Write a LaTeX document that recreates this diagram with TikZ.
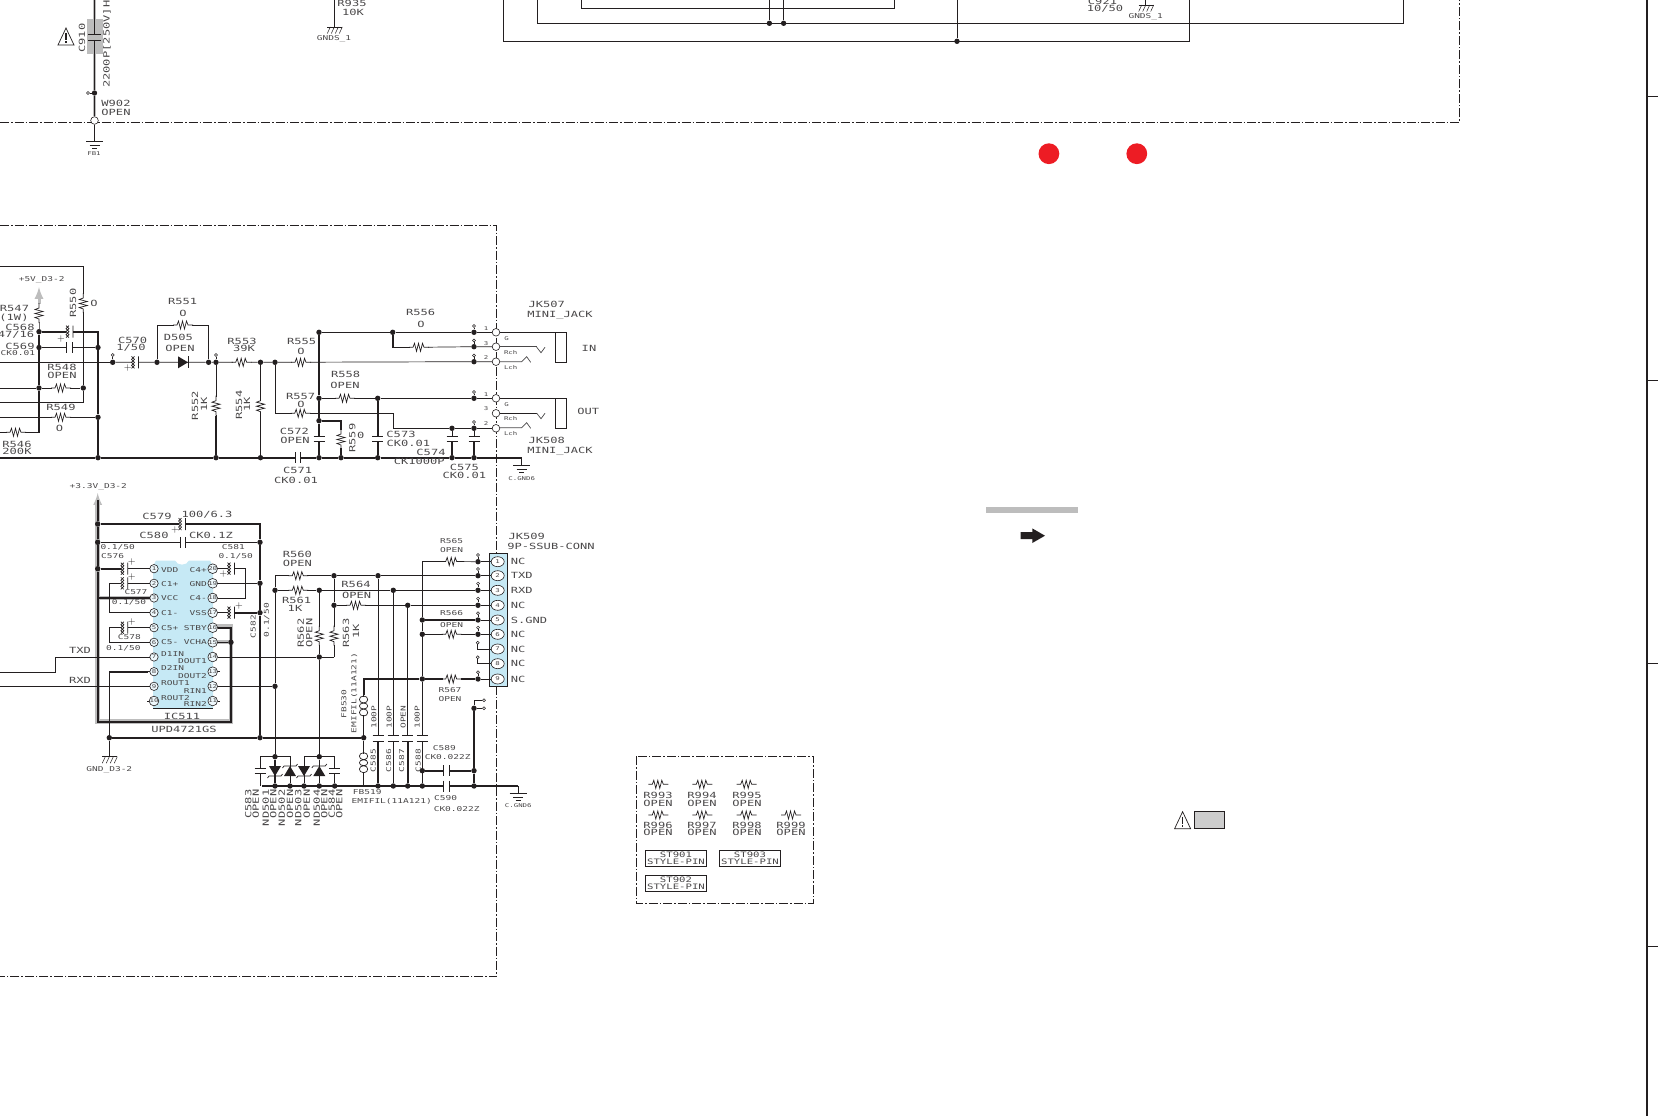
\documentclass[tikz,border=0pt]{standalone}
\usepackage{fontspec}
\newfontfamily\lblfont[FakeStretch=1.42]{DejaVu Sans Mono}
\usetikzlibrary{shapes.geometric}
\definecolor{ink}{HTML}{231F20}
\definecolor{txt}{HTML}{4A4849}
\definecolor{halogray}{HTML}{BDBDBD}
\definecolor{icblue}{HTML}{C6E9F5}
\definecolor{dotred}{HTML}{ED1C24}
\tikzset{
  wire/.style={line width=0.7pt,color=ink},
  bus/.style={line width=1.6pt,color=ink},
  halo/.style={line width=4.6pt,color=halogray},
  border/.style={line width=0.8pt,color=ink,dash pattern=on 9pt off 2pt on 1.5pt off 2pt},
  jdot/.style={circle,fill=ink,inner sep=0pt,minimum size=5.4pt},
  pinring/.style={circle,draw=ink,fill=white,line width=0.5pt,inner sep=0pt,minimum size=3pt},
  jackring/.style={circle,draw=ink,fill=white,line width=0.6pt,inner sep=0pt,minimum size=7.6pt},
  lbl/.style={font=\lblfont\fontsize{8.5}{8.5}\selectfont,text=txt,inner sep=0pt},
  lblm/.style={font=\lblfont\fontsize{7.5}{7.5}\selectfont,text=txt,inner sep=0pt},
  lbls/.style={font=\lblfont\fontsize{6.7}{6.7}\selectfont,text=txt,inner sep=0pt},
  lblt/.style={font=\lblfont\fontsize{5.2}{5.2}\selectfont,text=txt,inner sep=0pt},
  icpin/.style={circle,draw=ink,fill=white!70!icblue,line width=0.6pt,inner sep=0pt,minimum size=8.4pt,font=\lblfont\fontsize{5.2}{5.2}\selectfont,text=txt},
  conpin/.style={ellipse,draw=ink,fill=white,line width=0.6pt,inner sep=0pt,minimum width=13pt,minimum height=10pt,font=\lblfont\fontsize{5.2}{5.2}\selectfont,text=txt},
  pics/resist/.style={code={
    \fill[white] (-9,-1.5) rectangle (9,1.5);
    \draw[wire] (-10,0) -- (-6,0) -- (-4.5,-4) -- (-2.5,4) -- (-0.5,-4) -- (1.5,4) -- (3.5,-4) -- (5,0) -- (10,0);}},
  pics/plates/.style={code={
    \fill[white] (-2.7,-1.5) rectangle (2.7,1.5);
    \draw[wire] (-2.7,-5.5) -- (-2.7,5.5) (2.7,-5.5) -- (2.7,5.5);}},
  pics/pcap/.style={code={
    \fill[white] (-3.5,-1.5) rectangle (3.5,1.5);
    \draw[wire] (3.5,-6) -- (3.5,6) (-3.5,-6) -- (-0.5,-3) -- (-3.5,0) -- (-0.5,3) -- (-3.5,6)
      (-0.5,-6) -- (-3.5,-3) -- (-0.5,0) -- (-3.5,3) -- (-0.5,6);}},
  pics/zener/.style={code={
    \fill[ink] (-5,-6) -- (5,0) -- (-5,6) -- cycle;
    \draw[wire] (3,-7.5) -- (5,-6) -- (5,6) -- (7,7.5);}},
  pics/diode/.style={code={
    \fill[ink] (-5,-6) -- (5,0) -- (-5,6) -- cycle;
    \draw[wire] (5,-6) -- (5,6);}},
  pics/earth/.style={code={
    \draw[wire] (-8.5,0) -- (8.5,0) (-5,4) -- (5,4) (-2.5,7.5) -- (2.5,7.5);}},
  pics/hatch/.style={code={
    \draw[wire] (-7,0) -- (8,0);
    \foreach \h in {-4,0,4,8} \draw[wire,line width=0.5pt] (\h,0) -- (\h-3,6.5);}},
  pics/caution/.style={code={
    \draw[line width=0.7pt,color=ink] (0,0) -- (8,17) -- (-8,17) -- cycle;
    \draw[line width=1.1pt,color=ink] (0,5) -- (0,12) (0,13.5) -- (0,15.5);}},
}
\begin{document}
\begin{tikzpicture}[x=1pt,y=-1pt]
\useasboundingbox (0,0) rectangle (1658,1116);
% frames
\draw[border] (0,122.4) -- (1459.4,122.4) -- (1459.4,0);
\draw[border] (0,225.4) -- (496.8,225.4) -- (496.8,976.7) -- (0,976.7);
\draw[border] (636.7,756) rectangle (813.3,903.3);
\draw[line width=2pt,color=ink] (1647,0) -- (1647,1116);
\foreach \y in {96.8,380.8,663,946.6} \draw[line width=0.9pt,color=ink] (1647,\y) -- (1658,\y);

% top part
\fill[halogray] (87,19) rectangle (103,54);
\node[jdot] (w902) at (94.5,93) {};
\node[jackring] (fb1ring) at (94.5,120.5) {};
\node[pinring] (w902pin) at (88,93) {};
\coordinate (c910top) at (94.5,34);
\coordinate (c910bot) at (94.5,40);
\draw[halo,line width=2.4pt] (94.5,0) -- (c910top);
\draw[wire] (94.5,0) -- (c910top);
\draw[halo,line width=3pt] (c910bot) -- (w902) -- (fb1ring);
\draw[bus] (c910bot) -- (w902);
\draw[wire] (w902) -- (fb1ring);
\draw[wire] (w902pin) -- (w902);
\draw[wire] (88,34) -- (101,34) (88,40) -- (101,40);
\coordinate (fb1gnd) at (94.5,141);
\draw[wire] (fb1ring) -- (fb1gnd);
\pic at (fb1gnd) {earth};
\pic at (66,28) {caution};
\coordinate (gnds1a) at (334.3,27);
\draw[wire] (334.3,0) -- (gnds1a);
\pic at (gnds1a) {hatch};
\node[jdot] (t1) at (769.4,23.3) {};
\node[jdot] (t2) at (783.6,23.3) {};
\node[jdot] (t3) at (957,41.3) {};
\draw[line width=1pt,color=ink] (503.4,0) |- (1189.7,41.3) -- (1189.7,0);
\draw[line width=1pt,color=ink] (537,0) |- (1403.6,23.3) -- (1403.6,0);
\draw[line width=1pt,color=ink] (581.6,0) |- (894.6,8.3) -- (894.6,0);
\draw[wire] (769.4,0) -- (t1) (783.6,0) -- (t2) (957,0) -- (t3);
\coordinate (gnds1b) at (1145.7,5);
\draw[wire] (1145.7,0) -- (gnds1b);
\pic at (gnds1b) {hatch};
\foreach \x in {1048.9,1136.8} \fill[dotred] (\x,153.7) circle (10.4);
\fill[halogray] (986,507) rectangle (1078,513);
\fill[ink] (1020.7,532.2) -- (1032.3,532.2) -- (1032.3,528.4) -- (1045,535.7) -- (1032.3,543) -- (1032.3,539.2) -- (1020.7,539.2) -- cycle;
\pic at (1182.6,811.7) {caution};
\draw[line width=0.9pt,color=ink,fill=halogray!75] (1194.3,811.7) rectangle (1224.3,828.7);

% junctions of the audio part
\foreach \n/\x/\y in {j5a/39/331.7,j5b/39/347.5,j5c/39/388,j5d/83.3/388,g1/98/347.5,g2/98/417.3,g3/98/457.7,
  j157/157/362.3,j208/208.6/362.3,j216/216/362.3,j260/260.5/362.3,j275/275/362.3,g4/216/457.7,g5/260.5/457.7,
  p570/112.7/362.3,j319a/319/332.3,j319b/319/398.3,j319c/319/420.7,g6/319/457.7,g7/341/457.7,g8/377.7/457.7,g9/452/457.7,g10/474/457.7,
  j393/392.7/332.3,j378/377.7/398.3,j452/452/428.3,
  ia/474/332.3,ib/474/346.7,ic/474/361.7,oa/474/398.3,oc/474/428.3}
  \node[jdot] (\n) at (\x,\y) {};
\foreach \n/\y in {ringa/332.3,ringb/346.7,ringc/361.7,ringd/398.3,ringe/413.3,ringf/428.3}
  \node[jackring] (\n) at (496,\y) {};
\foreach \n/\x/\y/\m in {q1/112.7/355/p570,q2/216/355/j216,q3/474/326/ia,q4/474/340.4/ib,q5/474/355.4/ic,q6/474/392/oa,q7/474/422/oc} {
  \node[pinring] (\n) at (\x,\y) {};
  \draw[wire] (\n) -- (\m);
}
% wires left of the audio part
\coordinate (wa) at (0,266);
\coordinate (wb) at (0,402);
\coordinate (r547b) at (39,321);
\draw[wire] (wa) -| (j5d) (j5d) |- (wb);
\draw[wire] (0,388) -- (j5c) -- (j5d);
\draw[wire] (0,362.3) -- (p570);
\draw[wire] (0,417.3) -- (g2);
\draw[wire] (0,432.3) -- (16,432.3);
\draw[bus] (16,432.3) -| (j5c);
\draw[bus] (j5c) -- (j5b) -- (j5a);
\draw[wire] (j5a) -- (r547b) -- (39,307);
\draw[color=halogray,line width=3pt,-latex] (39,307) -- (39,287);
\draw[bus] (j5a) -- (98,331.7) -- (g1) -- (g2) -- (g3);
\draw[bus] (j5b) -- (g1);
\draw[bus] (0,457.7) -- (g3) -- (g4) -- (g5) -- (g6) -- (g7) -- (g8) -- (g9) -- (g10) -- (521.7,457.7);
% signal line
\draw[wire] (p570) -- (j157) -- (j208) -- (j216) -- (j260) -- (j275) -- (ic) -- (ringc);
\draw[wire] (j157) -- ++(0,-37.3) -| (j208);
\draw[wire] (j216) -- (g4) (j260) -- (g5);
\draw[bus] (216,416) -- (g4) (260.5,416) -- (g5);
\draw[wire] (j275) |- (393.3,413.3) |- (j452);
\draw[wire] (j452) -- (oc) -- (ringf);
% thick returns
\draw[bus] (j319a) -- (j319b) -- (j319c) -- (g6);
\draw[bus] (j319a) -- (j393) -- (ia);
\draw[wire] (ia) -- (ringa);
\draw[bus] (j393) |- (419,347.3);
\draw[wire] (419,347.3) -- (ib) -- (ringb);
\draw[bus] (j319b) -- (j378) -- (oa);
\draw[wire] (oa) -- (ringd);
\draw[bus] (j378) -- (g8);
\draw[bus] (j319c) -| (g7);
\draw[wire] (j452) -- (g9) (oc) -- (g10);
\draw[bus] (452,442) -- (g9) (474,442) -- (g10);
\draw[wire] (ringe) -- (536.7,413.3);
% jacks
\foreach \d in {0,66} {
  \draw[wire] (499.8,332.3+\d) -- (555.7,332.3+\d);
  \draw[wire] (555.7,332.3+\d) rectangle (566.3,362.3+\d);
  \draw[wire,color=txt] (536.7,347.2+\d) -- (541,352.7+\d) -- (545,347.3+\d);
  \draw[wire,color=txt] (499.8,361.7+\d) -- (521.7,361.7+\d) -- (526.7,356.7+\d) -- (530.7,362.3+\d);
}
\draw[wire,color=txt] (ringb) -- (536.7,346.7);
\coordinate (gnd6a) at (521.7,465);
\draw[bus,line width=1pt] (521.7,457.7) -- (gnd6a);
\pic at (gnd6a) {earth};
% resistors and capacitors of the audio part
\foreach \x/\y in {61/388,61/417.3,16/432.3,183/325,241.7/362.3,301/362.3,300.7/413.3,419/347.3,345/398.3}
  \pic at (\x,\y) {resist};
\foreach \x/\y in {39/313,83.3/303,216/405.7,260.5/405.7,341/439}
  \pic[rotate=90] at (\x,\y) {resist};
\pic at (69.5,347.5) {plates};
\pic at (297.8,457.7) {plates};
\foreach \x in {319,377.7,452,474} \pic[rotate=90] at (\x,439) {plates};
\pic at (69.5,331.7) {pcap};
\pic at (135,362.3) {pcap};
\pic at (183,362.3) {diode};

% ic511
\draw[halo] (97.7,598) -- (150,598);
\draw[halo] (97.7,505) -- (97.7,721.7) -- (231,721.7) -- (231,626.5) -- (217,626.5);
\draw[halo] (231,642) -- (217,642);
\draw[color=halogray,line width=3pt,-latex] (97.7,505) -- (97.7,493);
\fill[icblue] (153,566) -- (156,560.5) -- (175,560.5) .. controls (177,566) and (187,566) .. (189,560.5) -- (210,560.5) -- (213,566) -- (213,708) -- (153,708) -- cycle;
\draw[wire] (153,708) -- (213,708);
\foreach \i/\y in {1/568.7,2/583.3,3/598,4/612.7,5/627.7,6/642.3,7/657,8/671.7,9/686.3,10/701}
  \node[icpin] (pl\i) at (154,\y) {\i};
\foreach \i/\y in {20/568.7,19/583.3,18/598,17/612.7,16/627.7,15/642.3,14/657,13/671.7,12/686.3,11/701}
  \node[icpin] (pr\i) at (212.7,\y) {\i};
\foreach \n/\x/\y in {v1/97.7/524,v2/97.7/542.3,v3/97.7/568.7,v4/260/542.3,v5/260/583.3,v6/260/612.7,v7/260/737.7,v8/109.3/737.7,
  v9/231/642.3,v10/275/590.3,v11/275/686.3,v12/319.3/590.3,v13/319.3/657,v14/334/575.7,v15/334/605.3,
  v16/378/575.7,v17/393.3/590.3,v18/407.7/605.3,v19/422.3/620,v20/422.3/634.3,v21/422.3/679,v22/363.7/737.7,
  v23/275/756.7,v24/319.3/756.7,v25/422.3/770.7,v26/474/770.7,v27/474/786,v28/474/708.3}
  \node[jdot] (\n) at (\x,\y) {};
\foreach \n/\x in {b1/275,b2/290,b3/304,b4/319.3,b5/334.7,b6/378,b7/393.3,b8/407.7,b9/422.3}
  \node[jdot] (\n) at (\x,786) {};
\draw[bus] (97.7,500) -- (v1) -- (v2) -- (v3) -- (97.7,721.7) -- (231,721.7) -- (231,627.7) -- (pr16);
\draw[bus] (v9) -- (pr15);
\draw[bus] (97.7,598) -- (pl3);
\draw[bus] (v1) -- (260,524) -- (v4) -- (v5) -- (v6) -- (v7);
\draw[bus] (v2) -- (v4);
\draw[bus] (v3) -- (121,568.7);
\draw[wire] (121,568.7) -- (pl1);
\draw[wire] (pl2) -- (109.3,583.3) |- (pl4);
\draw[wire] (pl5) -- (109.3,627.7) |- (pl6);
\draw[wire] (pr20) -- (245,568.7) |- (pr18);
\draw[bus] (pr19) -- (v5);
\draw[wire] (pr17) -- (235,612.7);
\draw[bus] (235,612.7) -- (v6);
\draw[bus] (v8) -- (v7) -- (v22);
\coordinate (gndd3) at (109.3,756.7);
\draw[wire] (pl8) -- (109.3,671.7);
\draw[bus] (148,671.7) -- (109.3,671.7) -- (v8);
\draw[bus] (v8) -- (gndd3);
\pic at (gndd3) {hatch};
\draw[wire] (0,672) -| (55,657) -- (pl7);
\draw[wire] (0,686.3) -- (pl9);
\draw[wire] (pr14) -- (v13) -- (334,657);
\draw[wire] (pr12) -- (v11);
\foreach \p/\d in {pr13/1,pr11/1,pl10/-1} \draw[wire] (\p) -- ++(\d*7,0);
\foreach \x/\y in {124.3/568.7,124.3/583.3,124.3/627.7,231/568.7,231/612.7}
  \pic at (\x,\y) {pcap};
\pic at (182,524) {pcap};
\pic at (182.6,542.3) {plates};

% connector jk509
\node[draw=ink,fill=icblue,line width=0.9pt,minimum width=18pt,minimum height=132.7pt,inner sep=0pt] (jk509) at (498.3,619.7) {};
\foreach \i/\y in {1/561.7,2/575.7,3/590.3,4/605.3,5/620,6/634.3,7/649,8/663.7,9/679}
  \node[conpin] (cn\i) at (497.7,\y) {\i};
\foreach \n/\y in {d1/561.7,d2/575.7,d3/590.3,d4/605.3,d5/620,d6/634.3,d9/679} {
  \node[jdot] (\n) at (478,\y) {};
  \node[pinring] (\n pin) at (478,\y-6.7) {};
  \draw[wire] (\n pin) -- (\n);
}
\node[pinring] (d7pin) at (477.7,642.7) {};
\node[pinring] (d8pin) at (477.7,657.3) {};
\node[pinring] (f1) at (484,700.3) {};
\node[pinring] (f2) at (484,708.3) {};
\draw[wire] (d7pin) |- (cn7);
\draw[wire] (d8pin) |- (cn8);
\draw[wire] (d1) -- (cn1) (d2) -- (cn2) (d3) -- (cn3) (d4) -- (cn4) (d5) -- (cn5) (d6) -- (cn6) (d9) -- (cn9);
% lines to the connector
\draw[wire] (275,575.7) -- (v14) -- (v16) -- (d2);
\draw[wire] (v10) -- (v12) -- (v17) -- (d3);
\draw[wire] (v15) -- (v18) -- (d4);
\draw[wire] (v14) -- (v15) -- (334,657);
\draw[wire] (275,575.7) -- (v10) -- (v11) -- (v23);
\draw[wire] (v12) -- (v13) -- (v24);
\draw[bus] (v21) -- (d9);
\draw[bus] (v19) -- (d5);
\draw[wire] (v20) -- (d6);
\draw[wire] (451.7,561.5) -- (d1);
\draw[bus] (451.7,561.5) -- (422.3,561.5) -- (v19) -- (v20) -- (v21) -- (422.3,735.7);
\draw[bus] (363.7,695) |- (v21);
\draw[wire] (363.7,695) -- (v22) -- (363.7,786);
\draw[bus] (262,786) -- (518,786);
\coordinate (gnd6b) at (518,793);
\draw[bus,line width=1pt] (518,786) -- (gnd6b);
\pic at (gnd6b) {earth};
\draw[wire] (v16) -- (378,735.7) (v17) -- (393.3,735.7) (v18) -- (407.7,735.7);
\draw[bus] (b6) -- (378,740.7) (b7) -- (393.3,740.7) (b8) -- (407.7,740.7) (b9) -- (422.3,740.7);
\draw[bus] (v25) -- (v26) (v28) -- (v26) -- (v27);
\draw[wire] (v28) -- (f2);
\draw[bus,line width=1pt] (v28) -- (474,700.3) -- (f1);
% protection diodes
\draw[wire] (260,786) -- (260,756.7) -- (290,756.7) -- (b2);
\draw[wire] (b3) -- (304,756.7) -- (334.7,756.7) -- (b5);
\draw[bus] (v23) -- (b1) (v24) -- (b4);
\pic[rotate=-90] at (275,771) {zener};
\pic[rotate=90] at (290,771) {zener};
\pic[rotate=-90] at (304,771) {zener};
\pic[rotate=90] at (319.3,771) {zener};
\foreach \x in {260,334.7} \pic[rotate=90] at (\x,770.7) {plates};
% parts on the connector lines
\foreach \x/\y in {298.3/575.7,298.3/590.3,356/605.3,451.7/561.5,451.7/634.3,451.7/679}
  \pic at (\x,\y) {resist};
\foreach \x in {319.3,334} \pic[rotate=90] at (\x,635.7) {resist};
\foreach \x in {378,393.3,407.7,422.3} \pic[rotate=90] at (\x,738.2) {plates};
\foreach \y in {770.7,786} \pic at (446.3,\y) {plates};
\foreach \y in {706,762.7} {
  \fill[white] (361,\y-9) rectangle (366.4,\y+9);
  \draw[wire] (363.7,\y-10) .. controls (358,\y-10) and (358,\y-3) .. (363.7,\y-3) .. controls (358,\y-3) and (358,\y+3) .. (363.7,\y+3) .. controls (358,\y+3) and (358,\y+10) .. (363.7,\y+10);
  \draw[wire] (363.7,\y-10) .. controls (369,\y-10) and (369,\y-3) .. (363.7,\y-3) .. controls (369,\y-3) and (369,\y+3) .. (363.7,\y+3) .. controls (369,\y+3) and (369,\y+10) .. (363.7,\y+10);
}
% legend parts
\foreach \x/\y in {658.3/784.3,702.3/784.3,746.7/784.3,658.3/815,702.3/815,746.7/815,791/815}
  \pic at (\x,\y) {resist};
\node[draw=ink,line width=0.8pt,minimum width=61.4pt,minimum height=16.4pt,inner sep=0pt] (st901) at (676,858.5) {};
\node[draw=ink,line width=0.8pt,minimum width=61.4pt,minimum height=16.4pt,inner sep=0pt] (st903) at (750,858.5) {};
\node[draw=ink,line width=0.8pt,minimum width=61.4pt,minimum height=16.4pt,inner sep=0pt] (st902) at (676,883.5) {};

% texts
\foreach \t/\x/\y [count=\k] in {
  W902/116/103,OPEN/116/112,R935/352/3,10K/353/12.5,C921/1102.5/1,{10/50}/1105/9,
  R547/14.5/308,C568/20/327,{47/16}/16/335,C569/20/346,
  R548/62/367.7,OPEN/62/375.5,R549/61/407.7,O/59.5/428,R546/17/444,200K/17/451.7,
  C570/132.7/340,{1/50}/131/348,R551/182.7/301.7,O/183/313,D505/178.3/337.3,OPEN/180/348,
  R553/242/341,39K/244/348.7,R555/301.7/341,O/301/351.7,R557/300.7/396,O/301/404,
  C571/297.7/470,CK0.01/296/480.7,C572/294.3/431,OPEN/295/440,
  R556/420.7/312.7,O/421/324,R558/345.7/374,OPEN/345/385,C573/401/434,CK0.01/408.3/443.3,
  C574/431/452.3,CK1000P/419.3/461.7,C575/464.3/467.3,CK0.01/464.3/475,
  JK507/546.7/304,MINI\_JACK/560/315,JK508/546.7/440.7,MINI\_JACK/560/451.7,IN/589/348.7,OUT/588.3/411,
  C579/157/516,{100/6.3}/207/515,C580/154/535,CK0.1Z/211/535,TXD/80/650.7,RXD/80/680,
  IC511/182/716,UPD4721GS/184/729,
  R560/297.3/554.3,OPEN/297.3/563.3,R561/296.7/600,1K/295/608,R564/356/584.3,OPEN/356.7/595.7,
  JK509/526.7/536,9P-SSUB-CONN/551/546.7,
  R993/658/795.7,OPEN/658/803.3,R994/702/795.7,OPEN/702/803.3,R995/747/795.7,OPEN/747/803.3,
  R996/658/825,OPEN/658/832.7,R997/702/825,OPEN/702/832.7,R998/747/825,OPEN/747/832.7,R999/791/825,OPEN/791/832.7}
  \node[lbl] (tx\k) at (\x,\y) {\t};
\foreach \t/\y [count=\k] in {NC/561.7,TXD/575.7,RXD/590.3,NC/605.3,S.GND/620,NC/634.3,NC/649,NC/663.7,NC/679}
  \node[lbl,anchor=west] (cname\k) at (510.7,\y) {\t};
\node[lbl] (tx1w) at (14,318) {(1W)};
\node[lbls,anchor=west] (tx569) at (0.5,353) {CK0.01};
\foreach \t/\x/\y [count=\k] in {
  +5V\_D3-2/41.7/280,+3.3V\_D3-2/98.3/486.7,GND\_D3-2/109.3/770,
  {0.1/50}/117.7/547.7,C576/112.7/555.7,C577/136/592.3,{0.1/50}/129/602.7,C578/129.3/636.7,{0.1/50}/123.3/648.3,
  C581/233.3/547.3,{0.1/50}/235.7/556.7,
  R565/451.7/541,OPEN/451.7/550,R566/451.7/613.3,OPEN/451.7/625,R567/450/690,OPEN/450/699,
  FB519/367.3/792.3,EMIFIL(11A121)/391.7/801,C589/444.3/748.3,CK0.022Z/447.7/756.7,C590/445.7/798.3,CK0.022Z/456.7/809,
  GNDS\_1/334/39,GNDS\_1/1145.7/17.3}
  \node[lbls] (ty\k) at (\x,\y) {\t};
% names inside the ic
\foreach \t/\y [count=\k] in {VDD/569.7,C1+/584,VCC/598.5,C1-/613,C5+/628,C5-/642.5,D1IN/654,D2IN/668.5,ROUT1/683,ROUT2/698}
  \node[lbls,anchor=west] (il\k) at (161,\y) {\t};
\foreach \t/\y [count=\k] in {C4+/569.7,GND/584,C4-/598.5,VSS/613,STBY/628,VCHA/642.5,DOUT1/661.5,DOUT2/676.5,RIN1/691,RIN2/704}
  \node[lbls,anchor=east] (ir\k) at (207,\y) {\t};
\foreach \t/\x/\y [count=\k] in {G/506.7/338.3,Rch/510.7/352.3,Lch/510.7/367.3,G/506.7/404.3,Rch/510.7/419,Lch/510.7/434,
  1/486/329,3/486/343.3,2/486/358,1/486/395,3/486/409,2/486/424,C.GND6/521.7/478.3,C.GND6/518.3/805.7,FB1/94/153.5}
  \node[lblt] (tz\k) at (\x,\y) {\t};
\foreach \t/\x/\y [count=\k] in {
  C910/82/38,R550/73/303,R552/195/405.7,1K/204/404,R554/239/405,1K/247/404,R559/352.3/438,R562/300.7/633,OPEN/309.3/633,R563/346/633,1K/356/631}
  \node[lbl,rotate=90] (tr\k) at (\x,\y) {\t};
\node[lbl,rotate=90,anchor=west] (tr2200) at (107,88) {2200P[250V]H};
\node[lbl] (tr550b) at (94,303) {O};
\node[lbl] (tr559b) at (360.7,435) {0};
\foreach \t/\x/\y [count=\k] in {
  C582/253.3/626.7,{0.1/50}/266.7/620,FB530/344/704,EMIFIL(11A121)/354.3/693,
  100P/374/717,100P/389.3/717,OPEN/403.3/717,100P/417.3/717,C585/373.3/760.7,C586/388.7/760.7,C587/401.7/760.7,C588/418.3/760.7}
  \node[lbls,rotate=90] (ts\k) at (\x,\y) {\t};
\foreach \t/\x [count=\k] in {C583/248.3,OPEN/255.7,ND501/265.7,OPEN/273.3,ND502/281.7,OPEN/290,ND503/298.3,OPEN/306.7,ND504/316.7,OPEN/324.3,C584/331.7,OPEN/339.3}
  \node[lbl,rotate=90,anchor=east] (tb\k) at (\x,789.5) {\t};
\foreach \t/\x/\y [count=\k] in {ST901/676/854.3,STYLE-PIN/676/861.7,ST903/750/854.3,STYLE-PIN/750/861.7,ST902/676/879.3,STYLE-PIN/676/886.7}
  \node[lblm] (tq\k) at (\x,\y) {\t};
\foreach \t/\x/\y [count=\k] in {+/61/339,+/127.7/368,+/131.7/562.3,+/131.7/576.7,+/131.7/621.7,+/223.3/574.3,+/239/606,+/175/530}
  \node[font=\sffamily\fontsize{10}{10}\selectfont,text=ink,inner sep=0pt] (plus\k) at (\x,\y) {\t};
\end{tikzpicture}
\end{document}
